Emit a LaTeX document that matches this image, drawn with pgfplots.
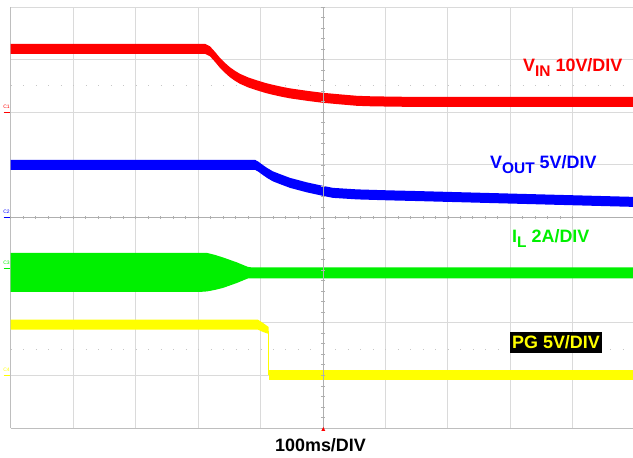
\documentclass[border=0pt]{standalone}
\usepackage{pgfplots}
\pgfplotsset{compat=1.18}
\usepackage{fontspec}
\setmainfont{Liberation Sans}

\definecolor{gridgray}{RGB}{218,218,218}
\definecolor{framegray}{RGB}{190,190,190}
\definecolor{crossgray}{RGB}{175,175,175}
\definecolor{chred}{RGB}{255,0,0}
\definecolor{chblue}{RGB}{0,0,255}
\definecolor{chgreen}{RGB}{0,240,0}
\definecolor{chyellow}{RGB}{255,255,0}

\newcommand{\lbl}{\fontsize{18}{18}\selectfont\bfseries}
\newcommand{\sub}[1]{\raisebox{-5bp}{\fontsize{15.5}{15.5}\selectfont #1}}

\begin{document}
\begin{tikzpicture}[x=1bp,y=1bp]
\path[use as bounding box] (0,0) rectangle (633,458);

% graticule and traces: x in divisions (100 ms/div), y in divisions
\begin{axis}[
    at={(10.7bp,30bp)}, anchor=south west,
    scale only axis, width=622.3bp, height=421bp,
    xmin=0, xmax=9.965, ymin=0, ymax=8,
    axis lines=left,
    axis line style={-, framegray, line width=0.9bp},
    xtick={0,...,9}, ytick={0,...,8},
    xticklabels={}, yticklabels={},
    major tick length=0,
    grid=major,
    major grid style={gridgray, line width=0.8bp},
    extra y ticks={1.5,6.5},
    extra y tick labels={},
    extra y tick style={grid=major, major grid style={gray!45, line width=0.9bp, dash pattern=on 1bp off 11.49bp}},
    clip=false,
]
% V_IN band (upper edge, then lower edge back)
\addplot[fill=chred, draw=none] coordinates {
    (0,7.300)(3.111,7.300)(3.191,7.253)(3.271,7.148)(3.351,7.034)(3.431,6.939)(3.511,6.854)
    (3.592,6.787)(3.672,6.730)(3.800,6.663)(3.944,6.606)(4.072,6.559)(4.200,6.521)(4.344,6.483)
    (4.472,6.454)(4.745,6.407)(5.001,6.369)(5.273,6.340)(5.545,6.312)(5.801,6.302)(6.346,6.293)
    (9.965,6.293)
    (9.965,6.103)(6.346,6.103)(5.801,6.112)(5.545,6.122)(5.273,6.150)(5.001,6.179)(4.745,6.217)
    (4.472,6.264)(4.344,6.293)(4.200,6.331)(4.072,6.369)(3.944,6.416)(3.800,6.473)(3.672,6.540)
    (3.592,6.597)(3.511,6.664)(3.431,6.749)(3.351,6.844)(3.271,6.958)(3.191,7.063)(3.111,7.110)
    (0,7.110)
};
% V_OUT band
\addplot[fill=chblue, draw=none] coordinates {
    (0,5.095)(3.912,5.095)(3.960,5.066)(4.024,5.009)(4.104,4.943)(4.200,4.876)(4.344,4.810)
    (4.472,4.753)(4.745,4.667)(5.001,4.601)(5.161,4.563)(5.545,4.534)(6.074,4.515)(6.394,4.506)
    (9.965,4.392)
    (9.965,4.202)(6.394,4.316)(6.074,4.325)(5.545,4.344)(5.161,4.373)(5.001,4.411)(4.745,4.477)
    (4.472,4.563)(4.344,4.620)(4.200,4.686)(4.104,4.753)(4.024,4.819)(3.960,4.876)(3.912,4.905)
    (0,4.905)
};
% I_L envelope
\addplot[fill=chgreen, draw=none] coordinates {
    (0,3.327)(3.031,3.327)(3.143,3.327)(3.271,3.289)(3.400,3.241)(3.511,3.194)(3.624,3.146)
    (3.720,3.099)(3.800,3.061)(3.864,3.051)(9.965,3.051)
    (9.965,2.845)(3.864,2.845)(3.800,2.842)(3.720,2.804)(3.624,2.757)(3.511,2.709)(3.400,2.662)
    (3.271,2.624)(3.143,2.595)(3.031,2.586)(0,2.586)
};
% PG
\addplot[fill=chyellow, draw=none] coordinates {
    (0,2.058)(3.96,2.058)(4.04,1.996)(4.13,1.92)(4.13,1.787)(4.04,1.825)(3.96,1.868)(0,1.868)
};
\addplot[chyellow, line width=1bp] coordinates {(4.136,1.85)(4.136,1.0)};
\addplot[fill=chyellow, draw=none] coordinates {
    (4.13,1.103)(9.965,1.103)(9.965,0.913)(4.13,0.913)
};
\end{axis}

% centre cross with its small ticks
\begin{axis}[
    at={(10.7bp,30bp)}, anchor=south west,
    scale only axis, width=622.3bp, height=421bp,
    xmin=-5, xmax=4.965, ymin=-4, ymax=4,
    axis lines=middle,
    axis line style={-, crossgray, line width=0.8bp},
    xtick={-5,...,4}, ytick={-4,...,4},
    minor x tick num=4, minor y tick num=4,
    xticklabels={}, yticklabels={},
    tick align=center,
    major tick length=3.5bp, minor tick length=3.5bp,
    tick style={crossgray, line width=0.7bp},
]
\end{axis}

% channel markers
\node[chred, font=\fontsize{5}{5}\selectfont, anchor=south] at (6.5,346) {C1};
\draw[chred, line width=1bp] (3.5,345) -- (10,345);
\node[chblue, font=\fontsize{5}{5}\selectfont, anchor=south] at (6.5,241) {C2};
\draw[chblue, line width=1bp] (3.5,240) -- (10,240);
\node[chgreen, font=\fontsize{5}{5}\selectfont, anchor=south] at (6.5,190) {C3};
\draw[chgreen, line width=1bp] (3.5,189) -- (10,189);
\node[chyellow, font=\fontsize{5}{5}\selectfont, anchor=south] at (6.5,83) {C4};
\draw[chyellow, line width=1bp] (3.5,82) -- (10,82);

% trigger marker
\fill[chred] (321.3,27) -- (325.3,27) -- (323.3,31) -- cycle;

% labels
\node[anchor=base west, inner sep=0, text=chred] at (523,386) {\lbl V\sub{IN} 10V/DIV};
\node[anchor=base west, inner sep=0, text=chblue] at (490,289) {\lbl V\sub{OUT} 5V/DIV};
\node[anchor=base west, inner sep=0, text=chgreen] at (512,215) {\lbl I\sub{L} 2A/DIV};
\node[fill=black, text=chyellow, inner xsep=2bp, inner ysep=0, minimum height=21bp, anchor=center] at (556,115.5) {\lbl PG 5V/DIV};
\node[anchor=base, inner sep=0] at (320.5,6) {\lbl 100ms/DIV};
\end{tikzpicture}
\end{document}
